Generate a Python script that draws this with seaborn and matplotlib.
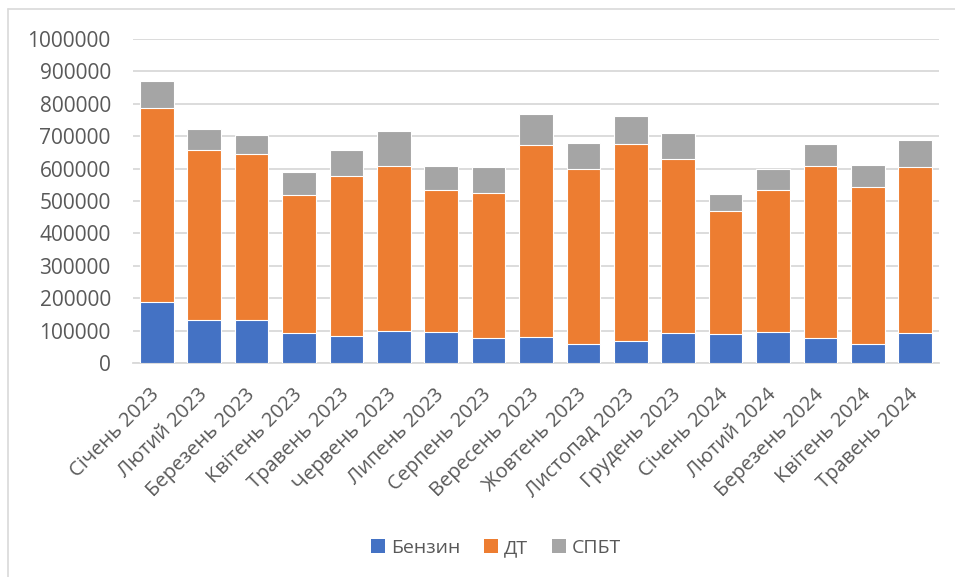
import matplotlib
matplotlib.use("Agg")
import matplotlib.pyplot as plt
from matplotlib.patches import Patch
from matplotlib.lines import Line2D
import numpy as np
import pandas as pd
import seaborn as sns

# Monthly fuel volumes, stacked by product
months = [
    "Січень 2023", "Лютий 2023", "Березень 2023", "Квітень 2023", "Травень 2023",
    "Червень 2023", "Липень 2023", "Серпень 2023", "Вересень 2023", "Жовтень 2023",
    "Листопад 2023", "Грудень 2023", "Січень 2024", "Лютий 2024", "Березень 2024",
    "Квітень 2024", "Травень 2024",
]
benzin = [188000, 134500, 132000, 94500, 83000, 98500, 97500, 79000, 82000, 59500,
          70000, 94500, 91000, 96500, 79000, 58500, 93400]
dt = [600000, 521500, 512000, 422500, 493000, 510500, 437500, 447000, 589000, 539000,
      604500, 533500, 379000, 438500, 528000, 485500, 511600]
spbt = [81000, 65000, 59000, 72000, 80000, 108000, 74000, 78000, 98000, 80000,
        87500, 80000, 52600, 62500, 69600, 67000, 83000]
series_names = ["Бензин", "ДТ", "СПБТ"]
colors = ["#4472C4", "#ED7D31", "#A5A5A5"]
y_ticks = list(range(0, 1000001, 100000))

df = pd.DataFrame({"month": months, "Бензин": benzin, "ДТ": dt, "СПБТ": spbt})
df["top_benzin"] = df["Бензин"]
df["top_dt"] = df["Бензин"] + df["ДТ"]
df["top_spbt"] = df["top_dt"] + df["СПБТ"]

sns.set_theme(style="white")
plt.rcParams["font.family"] = ["Open Sans", "DejaVu Sans"]
text_color = "#595959"
grid_color = "#D9D9D9"

fig = plt.figure(figsize=(9.55, 5.77), dpi=100)
ax = fig.add_axes([0.1393, 0.3704, 0.8439, 0.5625])

# Stacked bars: draw cumulative tops from the tallest down
for col, color in zip(["top_spbt", "top_dt", "top_benzin"], colors[::-1]):
    sns.barplot(data=df, x="month", y=col, color=color, width=0.71,
                edgecolor="white", linewidth=0.8, saturation=1, ax=ax, zorder=3)

ax.set_xlim(-0.5, len(months) - 0.5)
ax.set_ylim(0, 1000000)
ax.set_yticks(y_ticks)
ax.set_yticklabels([str(v) for v in y_ticks])
ax.set_xlabel("")
ax.set_ylabel("")
ax.yaxis.grid(True, color=grid_color, linewidth=1.3, zorder=0)
ax.set_axisbelow(True)
for side in ["top", "right", "left"]:
    ax.spines[side].set_visible(False)
ax.spines["bottom"].set_color(grid_color)
ax.spines["bottom"].set_linewidth(1.3)

ax.tick_params(axis="y", length=0, pad=16, labelsize=15, labelcolor=text_color)
ax.tick_params(axis="x", length=0, pad=20.5, labelsize=14.5, labelcolor=text_color)
for lbl in ax.get_xticklabels():
    lbl.set_rotation(45)
    lbl.set_ha("right")
    lbl.set_va("center")
    lbl.set_rotation_mode("anchor")

handles = [Patch(facecolor=c, edgecolor="none") for c in colors]
fig.legend(handles, series_names, loc="center", bbox_to_anchor=(496 / 955, 1 - 548 / 577),
           ncol=3, frameon=False, fontsize=14, labelcolor=text_color,
           handlelength=0.75, handleheight=0.75, handletextpad=0.3, columnspacing=1.2)

# Chart frame (left and top edges)
fig.add_artist(Line2D([8 / 955, 8 / 955], [0, 1 - 9 / 577], transform=fig.transFigure,
                      color=grid_color, linewidth=1.2))
fig.add_artist(Line2D([8 / 955, 1], [1 - 9 / 577, 1 - 9 / 577], transform=fig.transFigure,
                      color=grid_color, linewidth=1.2))

fig.savefig("out.png", dpi=100, facecolor="white")
